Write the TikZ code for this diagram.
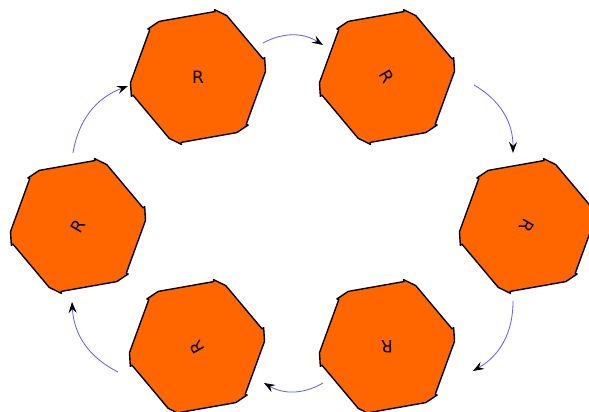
\documentclass[tikz,border=0pt]{standalone}
\usepackage{fontspec}
\setmainfont{DejaVu Sans}
\usetikzlibrary{calc,arrows.meta}
\definecolor{hexfill}{HTML}{FF6600}
\definecolor{arrowblue}{HTML}{5C5CFF}
\tikzset{
  hexshape/.pic={
    \filldraw[fill=hexfill,draw=black,line width=1.4pt,line join=round]
      ($(130:71)!7pt!(70:71)$)
      \foreach \t in {70,10,-50,-110,-170,-230} {
        -- ($(\t:71)!7.5pt!(\t+60:71)$)
        -- ($(\t:71)!7.5pt!(\t+60:71)+(\t+30:2)$)
        -- ($(\t:71)!7pt!(\t-60:71)$)
      } -- cycle;
  },
  rlabel/.style={inner sep=0pt,font=\fontsize{17}{17}\selectfont},
  ringarrow/.style={draw=arrowblue,line width=0.8pt,bend left=30,
    -{Stealth[black,length=11pt,width=8pt,inset=4pt]}}
}
\begin{document}
\begin{tikzpicture}[x=1pt,y=1pt]
\useasboundingbox (0,0) rectangle (589,412);
\clip (0,0) rectangle (589,412);
\coordinate (c1) at (198,335);
\coordinate (c2) at (387,335);
\coordinate (c3) at (527,186);
\coordinate (c4) at (387,65);
\coordinate (c5) at (197,65);
\coordinate (c6) at (78,186);
\foreach \c in {c1,c2,c3,c4,c5,c6} { \pic at (\c) {hexshape}; }
\node[rlabel,rotate=0] (h1) at (c1) {R};
\node[rlabel,rotate=-60] (h2) at (c2) {R};
\node[rlabel,rotate=-120] (h3) at (c3) {R};
\node[rlabel,rotate=180] (h4) at (c4) {R};
\node[rlabel,rotate=120] (h5) at (c5) {R};
\node[rlabel,rotate=60] (h6) at (c6) {R};
% arrow end points
\coordinate (a1s) at (263,369); \coordinate (a1e) at (323,367);
\coordinate (a2s) at (474,327); \coordinate (a2e) at (513,259);
\coordinate (a3s) at (513,111); \coordinate (a3e) at (473,41);
\coordinate (a4s) at (323,29);  \coordinate (a4e) at (264,29);
\coordinate (a5s) at (118,40);  \coordinate (a5e) at (72,110);
\coordinate (a6s) at (73,259);  \coordinate (a6e) at (128,326);
\draw[ringarrow] (a1s) to (a1e);
\draw[ringarrow] (a2s) to (a2e);
\draw[ringarrow] (a3s) to (a3e);
\draw[ringarrow] (a4s) to (a4e);
\draw[ringarrow] (a5s) to (a5e);
\draw[ringarrow] (a6s) to (a6e);
\end{tikzpicture}
\end{document}
